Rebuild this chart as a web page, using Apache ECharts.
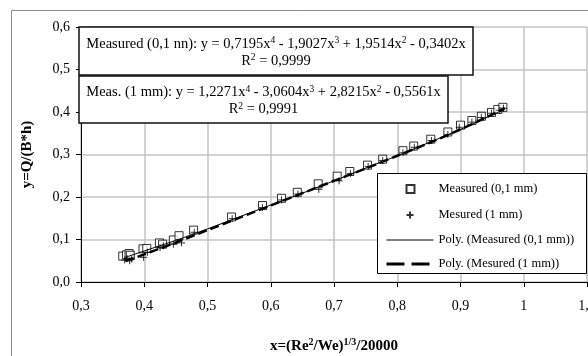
<!DOCTYPE html>
<html>
<head>
<meta charset="utf-8">
<script src="https://cdn.jsdelivr.net/npm/echarts@6/dist/echarts.min.js"></script>
<style>
html, body { margin: 0; padding: 0; background: #fff; }
#chart { width: 588px; height: 356px; }
</style>
</head>
<body>
<div id="chart"></div>
<script>
// measured points, 0,1 mm (squares)
const sqX = [0.366, 0.372, 0.376, 0.378, 0.398, 0.404, 0.424, 0.429, 0.446, 0.455, 0.478, 0.538, 0.587, 0.617, 0.642,
  0.675, 0.705, 0.725, 0.753, 0.777, 0.809, 0.826, 0.853, 0.880, 0.900, 0.918, 0.933, 0.949, 0.959, 0.967];
const sqY = [0.061, 0.064, 0.067, 0.063, 0.078, 0.079, 0.092, 0.089, 0.099, 0.109, 0.122, 0.153, 0.180, 0.197, 0.211,
  0.231, 0.249, 0.260, 0.275, 0.289, 0.309, 0.320, 0.336, 0.353, 0.369, 0.380, 0.390, 0.399, 0.406, 0.411];

// measured points, 1 mm (crosses)
const crX = [0.369, 0.373, 0.377, 0.380, 0.399, 0.405, 0.425, 0.430, 0.446, 0.459, 0.479, 0.539, 0.587, 0.617, 0.643,
  0.676, 0.708, 0.726, 0.754, 0.777, 0.809, 0.827, 0.854, 0.880, 0.898, 0.918, 0.933, 0.949, 0.962, 0.968];
const crY = [0.052, 0.055, 0.050, 0.054, 0.058, 0.070, 0.081, 0.085, 0.089, 0.092, 0.117, 0.149, 0.175, 0.193, 0.207,
  0.218, 0.238, 0.255, 0.272, 0.286, 0.304, 0.317, 0.333, 0.347, 0.364, 0.376, 0.387, 0.397, 0.404, 0.409];

// trend lines
const trendX = [0.37, 0.40, 0.45, 0.50, 0.55, 0.60, 0.65, 0.70, 0.75, 0.80, 0.85, 0.90, 0.95, 0.97];
const trend1Y = [0.058, 0.073, 0.098, 0.125, 0.153, 0.181, 0.209, 0.238, 0.268, 0.297, 0.328, 0.359, 0.393, 0.407];
const trend2Y = [0.049, 0.065, 0.093, 0.122, 0.151, 0.180, 0.209, 0.238, 0.267, 0.297, 0.327, 0.359, 0.394, 0.409];

const names = ['Measured (0,1 mm)', 'Mesured (1 mm)', 'Poly. (Measured (0,1 mm))', 'Poly. (Mesured (1 mm))'];
const eq1 = ['0,7195', '1,9027', '1,9514', '0,3402', '0,9999'];
const eq2 = ['1,2271', '3,0604', '2,8215', '0,5561', '0,9991'];

const SERIF = '"Liberation Serif", "Times New Roman", serif';
const pairs = (xs, ys) => xs.map((x, i) => [x, ys[i]]);
const comma = (v) => {
  const r = Math.round(v * 10) / 10;
  return (r === 1 ? '1' : r.toFixed(1)).replace('.', ',');
};

const richEq = {
  t: { fontFamily: SERIF, fontSize: 14.5, color: '#000', lineHeight: 17 },
  s: { fontFamily: SERIF, fontSize: 9.5, color: '#000', verticalAlign: 'top', lineHeight: 11 }
};
const eqText = (label, c) =>
  `{t|${label}: y = ${c[0]}x}{s|4}{t| - ${c[1]}x}{s|3}{t| + ${c[2]}x}{s|2}{t| - ${c[3]}x}\n{t|R}{s|2}{t| = ${c[4]}}`;

const eqBox = (x, y, w, h, label, c) => ({
  type: 'group',
  z: 20,
  children: [
    { type: 'rect', z: 20, shape: { x, y, width: w, height: h }, style: { fill: '#fff', stroke: '#111', lineWidth: 1.5 } },
    {
      type: 'text', z: 21, x: x + w / 2, y: y + h / 2 + 1.5,
      style: { text: eqText(label, c), rich: richEq, align: 'center', verticalAlign: 'middle' }
    }
  ]
});

// legend icons: invisible corner moves keep the icon box at 47x14
const ICON_SQ = 'path://M0,0M47,14M20,3L28,3L28,11L20,11Z';
const ICON_CR = 'path://M0,0M47,14M20,7L27,7M23.5,3.5L23.5,10.5';

const chart = echarts.init(document.getElementById('chart'));

chart.setOption({
  animation: false,
  backgroundColor: '#fff',
  grid: { left: 81, top: 27, right: 1, bottom: 74, outerBoundsMode: 'none', containLabel: false },
  xAxis: {
    type: 'value',
    min: 0.3,
    max: 1.1,
    interval: 0.1,
    name: '{b|x=(Re}{s|2}{b|/We)}{s|1/3}{b|/20000}',
    nameLocation: 'middle',
    nameGap: 55,
    nameTextStyle: {
      rich: {
        b: { fontFamily: SERIF, fontSize: 15, fontWeight: 'bold', color: '#000', lineHeight: 18 },
        s: { fontFamily: SERIF, fontSize: 10, fontWeight: 'bold', color: '#000', verticalAlign: 'top', lineHeight: 11 }
      }
    },
    axisLine: { onZero: false, lineStyle: { color: '#000', width: 1 } },
    axisTick: { length: 5, lineStyle: { color: '#000' } },
    axisLabel: { margin: 17, fontFamily: SERIF, fontSize: 14, color: '#000', formatter: comma,
      showMaxLabel: true, alignMaxLabel: 'center' },
    splitLine: { show: true, lineStyle: { color: '#c4c4c4', width: 1.5 } }
  },
  yAxis: {
    type: 'value',
    min: 0,
    max: 0.6,
    interval: 0.1,
    name: 'y=Q/(B*h)',
    nameLocation: 'middle',
    nameGap: 46,
    nameTextStyle: { fontFamily: SERIF, fontSize: 15, fontWeight: 'bold', color: '#000' },
    axisLine: { show: true, lineStyle: { color: '#000', width: 1 } },
    axisTick: { show: true, length: 5, lineStyle: { color: '#000' } },
    axisLabel: { margin: 11, fontFamily: SERIF, fontSize: 14, color: '#000', formatter: comma },
    splitLine: { show: true, lineStyle: { color: '#c4c4c4', width: 1.5 } }
  },
  legend: {
    data: [
      { name: names[0], icon: ICON_SQ },
      { name: names[1], icon: ICON_CR },
      { name: names[2], itemStyle: { opacity: 0 }, lineStyle: { width: 1 } },
      { name: names[3], itemStyle: { opacity: 0 }, lineStyle: { width: 3, type: [18, 7] } }
    ],
    orient: 'vertical',
    left: 385,
    top: 181,
    itemWidth: 47,
    itemHeight: 14,
    itemGap: 10,
    padding: 0,
    z: 30,
    selectedMode: false,
    textStyle: { fontFamily: SERIF, fontSize: 12.5, color: '#000', lineHeight: 14 }
  },
  graphic: [
    // outer chart frame
    { type: 'rect', z: 0, silent: true, shape: { x: 11.5, y: 10.5, width: 700, height: 500 },
      style: { fill: 'none', stroke: '#8c8c8c', lineWidth: 1 } },
    eqBox(79, 27, 394, 48, 'Measured (0,1 nn)', eq1),
    eqBox(79, 76, 369, 47, 'Meas. (1 mm)', eq2),
    // legend frame
    { type: 'rect', z: 25, shape: { x: 377.5, y: 173.5, width: 209, height: 100 },
      style: { fill: '#fff', stroke: '#000', lineWidth: 1 } }
  ],
  series: [
    {
      name: names[0],
      type: 'scatter',
      symbol: 'path://M0,0L10,0L10,10L0,10Z',
      symbolSize: 8,
      itemStyle: { color: '#fff', borderColor: '#000', borderWidth: 1 },
      z: 3,
      data: pairs(sqX, sqY)
    },
    {
      name: names[1],
      type: 'scatter',
      symbol: 'path://M0,5L10,5M5,0L5,10',
      symbolSize: 7,
      itemStyle: { color: 'rgba(0,0,0,0)', borderColor: '#000', borderWidth: 1 },
      z: 4,
      data: pairs(crX, crY)
    },
    {
      name: names[2],
      type: 'line',
      showSymbol: false,
      symbol: 'none',
      smooth: 0.3,
      lineStyle: { color: '#000', width: 1 },
      itemStyle: { color: '#000' },
      z: 6,
      data: pairs(trendX, trend1Y)
    },
    {
      name: names[3],
      type: 'line',
      showSymbol: false,
      symbol: 'none',
      smooth: 0.3,
      lineStyle: { color: '#000', width: 2.5, type: [9, 4] },
      itemStyle: { color: '#000' },
      z: 5,
      data: pairs(trendX, trend2Y)
    }
  ]
});
</script>
</body>
</html>
